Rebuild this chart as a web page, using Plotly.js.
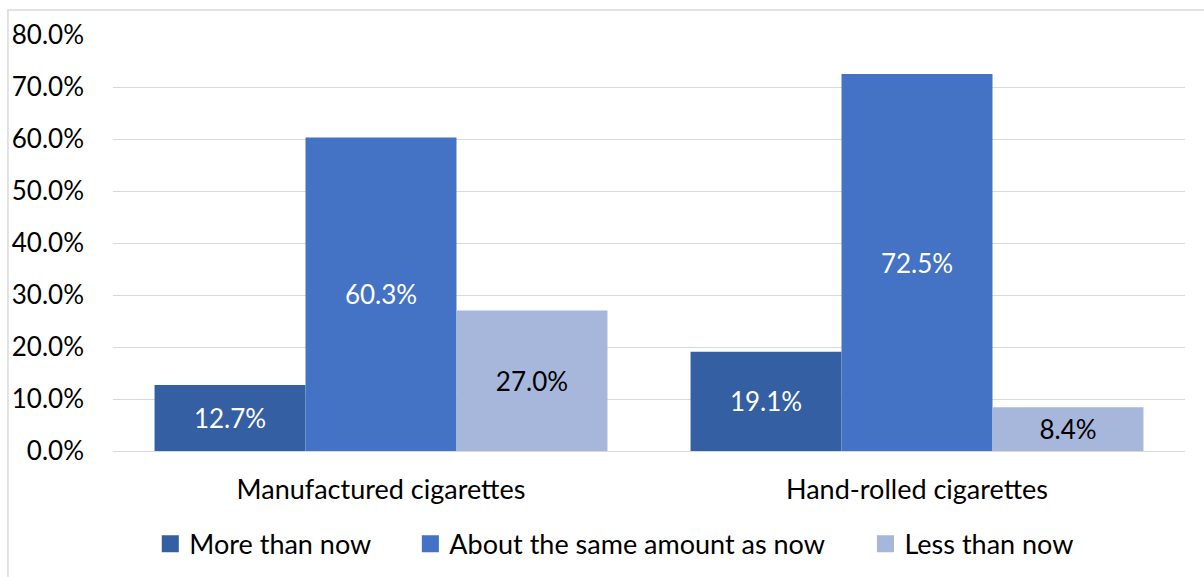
<!DOCTYPE html>
<html>
<head>
<meta charset="utf-8">
<script src="https://cdn.plot.ly/plotly-3.0.1.min.js"></script>
<style>
  html, body { margin: 0; padding: 0; background: #fff; }
  #chart { width: 1204px; height: 577px; }
</style>
</head>
<body>
<div id="chart"></div>
<script>
// Intended smoking change by cigarette type (share of respondents)
const categories = ['Manufactured cigarettes', 'Hand-rolled cigarettes'];
const seriesNames = ['More than now', 'About the same amount as now', 'Less than now'];
const moreThanNow = [12.7, 19.1];
const aboutTheSame = [60.3, 72.5];
const lessThanNow = [27.0, 8.4];
const yTickValues = [0, 10, 20, 30, 40, 50, 60, 70, 80];
const yTickLabels = ['0.0%', '10.0%', '20.0%', '30.0%', '40.0%', '50.0%', '60.0%', '70.0%', '80.0%'];

const colors = ['#355FA3', '#4472C4', '#A7B6DB'];
const textColors = ['#ffffff', '#ffffff', '#000000'];
const FONT = 'Lato, "Open Sans", sans-serif';

// one legend box per series so each entry can be placed on its own
const legendIds = ['legend', 'legend2', 'legend3'];
const legendX = [0.1240, 0.3400, 0.7180];

const values = [moreThanNow, aboutTheSame, lessThanNow];
const traces = values.map((vals, i) => ({
  type: 'bar',
  name: seriesNames[i],
  legend: legendIds[i],
  x: categories,
  y: vals,
  text: vals.map(v => v.toFixed(1) + '%'),
  textposition: 'inside',
  insidetextanchor: 'middle',
  textangle: 0,
  textfont: { family: FONT, size: 26, color: textColors[i] },
  marker: { color: colors[i], line: { width: 0 } },
  hoverinfo: 'skip'
}));

function legendBox(x) {
  return {
    orientation: 'h',
    xref: 'container',
    yref: 'container',
    x: x,
    xanchor: 'left',
    y: 0.057,
    yanchor: 'middle',
    font: { family: FONT, size: 27, color: '#000000' },
    itemwidth: 30,
    bgcolor: 'rgba(0,0,0,0)'
  };
}

const layout = {
  width: 1204,
  height: 577,
  margin: { l: 113, r: 19, t: 35, b: 126 },
  paper_bgcolor: '#ffffff',
  plot_bgcolor: '#ffffff',
  font: { family: FONT, size: 26, color: '#000000' },
  barmode: 'group',
  bargap: 0.155,
  bargroupgap: 0,
  showlegend: true,
  legend: legendBox(legendX[0]),
  legend2: legendBox(legendX[1]),
  legend3: legendBox(legendX[2]),
  xaxis: {
    showgrid: false,
    showline: false,
    ticks: '',
    ticklabelstandoff: 20,
    tickfont: { family: FONT, size: 27, color: '#000000' },
    automargin: false
  },
  yaxis: {
    range: [0, 80],
    tickvals: yTickValues,
    ticktext: yTickLabels,
    showgrid: true,
    gridcolor: '#d9d9d9',
    gridwidth: 1,
    zeroline: true,
    zerolinecolor: '#d9d9d9',
    zerolinewidth: 1,
    showline: false,
    ticks: '',
    ticklabelstandoff: 28,
    tickfont: { family: FONT, size: 26, color: '#000000' },
    automargin: false,
    fixedrange: true
  },
  shapes: [{
    type: 'rect',
    xref: 'paper', yref: 'paper',
    x0: -0.098, x1: 1.05, y0: -0.45, y1: 1.06,
    line: { color: '#d9d9d9', width: 1.5 },
    fillcolor: 'rgba(0,0,0,0)',
    layer: 'below'
  }]
};

Plotly.newPlot('chart', traces, layout, { displayModeBar: false, staticPlot: true }).then(gd => {
  // larger legend swatches, sitting close to their labels
  gd.querySelectorAll('.legendpoints path').forEach(p => {
    p.setAttribute('transform', 'translate(21,0) scale(1.42)');
  });
});
</script>
</body>
</html>
